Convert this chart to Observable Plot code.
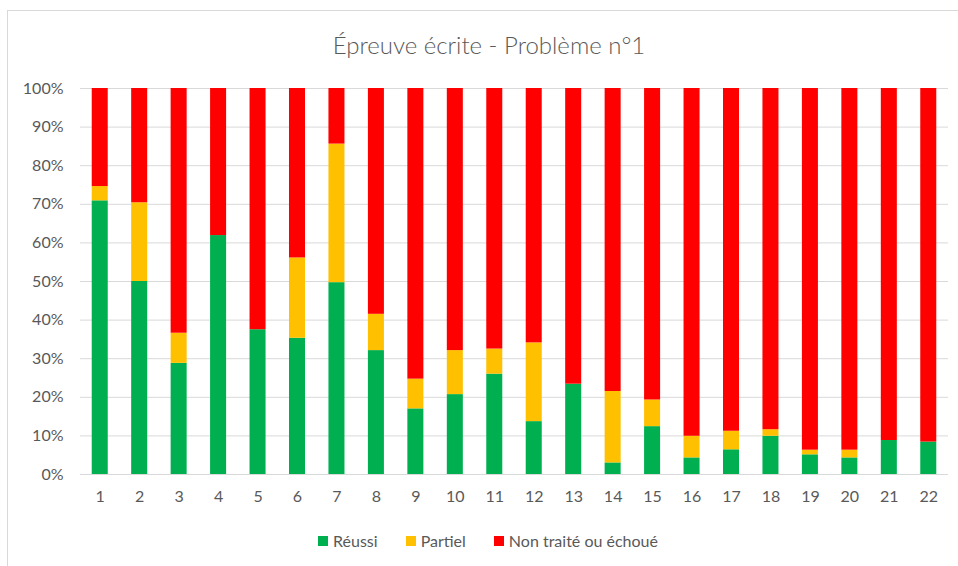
<!DOCTYPE html>
<html>
<head>
<meta charset="utf-8">
<script src="https://cdn.jsdelivr.net/npm/d3@7"></script>
<script src="https://cdn.jsdelivr.net/npm/@observablehq/plot@0.6"></script>
<style>
  html, body { margin: 0; padding: 0; background: #fff; }
  #wrap { position: relative; width: 958px; height: 566px; overflow: hidden; background: #fff; font-family: Lato, "Open Sans", sans-serif; color: #595959; }
  #frame { position: absolute; left: 7px; top: 10px; width: 1000px; height: 600px; border: 1px solid #d9d9d9; box-sizing: border-box; }
  #title { position: absolute; left: 0; width: 978px; top: 28px; text-align: center; font-size: 24px; font-weight: 300; line-height: 34px; color: #595959; }
  #chart { position: absolute; left: 0; top: 70px; }
  #legend { position: absolute; left: 0; width: 976px; top: 531px; display: flex; justify-content: center; gap: 28px; font-size: 16px; line-height: 20px; }
  .item { display: flex; align-items: center; gap: 5px; }
  .sw { width: 10px; height: 10px; display: inline-block; }
</style>
</head>
<body>
<div id="wrap">
  <div id="frame"></div>
  <div id="title">Épreuve écrite - Problème n°1</div>
  <div id="chart"></div>
  <div id="legend"></div>
</div>
<script>
const problems = ["1","2","3","4","5","6","7","8","9","10","11","12","13","14","15","16","17","18","19","20","21","22"];
const seriesNames = ["Réussi", "Partiel", "Non traité ou échoué"];
const seriesColors = ["#00B050", "#FFC000", "#FF0000"];
const reussi   = [70.9, 50.0, 28.8, 61.9, 37.5, 35.3, 49.7, 32.1, 17.0, 20.7, 26.0, 13.7, 23.4, 3.0, 12.4, 4.3, 6.4, 9.9, 5.1, 4.3, 8.8, 8.4];
const partiel  = [3.7, 20.4, 7.8, 0, 0, 20.8, 35.9, 9.4, 7.7, 11.4, 6.5, 20.4, 0, 18.5, 6.9, 5.6, 4.8, 1.7, 1.2, 2.0, 0, 0];
const nonTraite = [25.4, 29.6, 63.4, 38.1, 62.5, 43.9, 14.4, 58.5, 75.3, 67.9, 67.5, 65.9, 76.6, 78.5, 80.7, 90.1, 88.8, 88.4, 93.7, 93.7, 91.2, 91.6];
const yTicks = [0, 10, 20, 30, 40, 50, 60, 70, 80, 90, 100];

const seriesValues = [reussi, partiel, nonTraite];
const rows = [];
problems.forEach((p, i) => {
  seriesNames.forEach((s, j) => rows.push({problem: p, serie: s, value: seriesValues[j][i]}));
});

const chart = Plot.plot({
  width: 958,
  height: 450,
  marginTop: 18,
  marginBottom: 46,
  marginLeft: 80,
  marginRight: 10,
  style: { fontFamily: "Lato, 'Open Sans', sans-serif", fontSize: "16px", color: "#595959", background: "transparent" },
  x: { domain: problems, paddingInner: 0.594, paddingOuter: 0.297, round: false, label: null, tickSize: 0, tickPadding: 16 },
  y: { domain: [0, 100], ticks: yTicks, tickFormat: d => d + "%", label: null, tickSize: 0, tickPadding: 17 },
  color: { domain: seriesNames, range: seriesColors },
  marks: [
    Plot.gridY(yTicks, { stroke: "#d9d9d9", strokeOpacity: 1, strokeWidth: 1 }),
    Plot.barY(rows, { x: "problem", y: "value", fill: "serie", order: seriesNames }),
    Plot.ruleY([0], { stroke: "#d9d9d9", strokeWidth: 1 })
  ]
});
document.getElementById("chart").appendChild(chart);

const legend = document.getElementById("legend");
seriesNames.forEach((s, i) => {
  const item = document.createElement("div");
  item.className = "item";
  const sw = document.createElement("span");
  sw.className = "sw";
  sw.style.background = seriesColors[i];
  const t = document.createElement("span");
  t.textContent = s;
  item.appendChild(sw);
  item.appendChild(t);
  legend.appendChild(item);
});
</script>
</body>
</html>
